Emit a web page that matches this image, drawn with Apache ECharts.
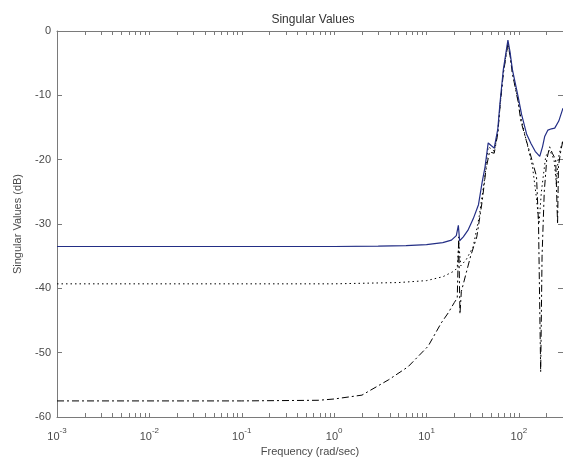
<!DOCTYPE html>
<html><head><meta charset="utf-8">
<script src="https://cdn.jsdelivr.net/npm/echarts@6/dist/echarts.min.js"></script>
<style>html,body{margin:0;padding:0;background:#fff}#c{width:563px;height:466px}</style>
</head><body><div id="c"></div>
<script>
// ---- data (frequency in rad/sec, singular values in dB) ----
var freqBlue = [0.001,0.01,0.1,1,3,6,10,15,18.6,21,22.1,22.8,25,28,32,36.5,40,43,46.5,50,54,59,62.4,67.8,76,80,85,98,107,121,135,150,168,180,190,206,225,244,270,300];
var dbBlue   = [-33.5,-33.5,-33.5,-33.5,-33.45,-33.35,-33.2,-32.9,-32.5,-31.8,-30.2,-32.6,-32.0,-31.0,-29.2,-27.0,-23.5,-21.1,-17.4,-17.8,-18.2,-15.3,-11.2,-6.0,-1.4,-3.2,-6.0,-10.2,-13.0,-16.0,-17.5,-18.7,-19.5,-18.0,-16.4,-15.4,-15.2,-15.1,-14.0,-12.0];

var freqDot = [0.001,0.1,1,5,10,15,20,21.5,22.3,23.5,27,32,37,42,46.5,50,54,59,62.4,67.8,76,80,85,98,105,120,140,155,165,175,195,215,240,255,265,285,300];
var dbDot   = [-39.3,-39.3,-39.3,-39.1,-38.8,-38.2,-37.3,-36.8,-33.0,-36.5,-35.5,-33.5,-29.0,-23.5,-18.0,-18.3,-18.7,-15.8,-11.6,-6.4,-1.8,-3.6,-6.4,-10.8,-13.5,-17.0,-21.0,-26.0,-30.0,-25.0,-19.5,-18.5,-20.0,-24.0,-20.0,-18.0,-17.0];

var freqDash = [0.001,0.1,0.68,1,2,3.9,6.3,10.4,14.4,17.2,20,21.5,22.3,23,23.8,27,30,35,40,44,48,54,59,62.4,67.8,76,80,85,98,105,120,132,155,163,172,178,188,200,215,230,250,262,268,285,300];
var dbDash   = [-57.5,-57.5,-57.4,-57.2,-56.6,-54.2,-52.2,-49.0,-45.4,-43.8,-42.2,-41.5,-32.0,-44.0,-40.5,-37.5,-35.0,-32.0,-26.5,-21.5,-18.8,-19.0,-16.0,-11.8,-6.6,-2.0,-3.8,-6.6,-11.0,-14.0,-17.0,-19.0,-22.6,-30.0,-53.0,-35.0,-25.0,-20.0,-18.0,-19.0,-20.0,-30.0,-21.0,-18.5,-17.0];

var xMin = 0.001, xMax = 300;
var decadeExps = [-3,-2,-1,0,1,2];          // tick labels 10^n
var yMin = -60, yMax = 0, yStep = 10;
var titleText = 'Singular Values';
var xName = 'Frequency (rad/sec)';
var yName = 'Singular Values (dB)';

// x axis works in log10(frequency) space
function pairs(f, v){ return f.map(function(x,i){ return [Math.log10(x), v[i]]; }); }
var allTicks = [];
decadeExps.forEach(function(n){ for (var k = 1; k <= 9; k++) { var m = k*Math.pow(10,n); if (m <= xMax) allTicks.push(Math.log10(m)); } });

var axisColor = '#7a7a7a', textColor = '#4a4a4a', fontFam = '"Liberation Sans", Arial, sans-serif';
function xAx(pos, show){
  return { type:'value', min:Math.log10(xMin), max:Math.log10(xMax), interval:1, position:pos,
    axisLine:{show:true, onZero:false, lineStyle:{color:axisColor, width:1}},
    axisTick:{show:true, inside:true, length:4, customValues:allTicks, lineStyle:{color:axisColor}},
    axisLabel: show ? {
      show:true, customValues:decadeExps, margin:10, color:textColor, fontFamily:fontFam,
      formatter: function(v){ return '{b|10}{s|' + Math.round(v) + '}'; },
      rich: { b:{fontSize:11, fontFamily:fontFam, color:textColor, verticalAlign:'bottom'},
              s:{fontSize:8, fontFamily:fontFam, color:textColor, verticalAlign:'bottom', padding:[0,0,7,0]} }
    } : {show:false},
    splitLine:{show:false},
    name: show ? xName : '', nameLocation:'middle', nameGap:29,
    nameTextStyle:{color:textColor, fontSize:11, fontFamily:fontFam} };
}
function yAx(pos, show){
  return { type:'value', min:yMin, max:yMax, interval:yStep, position:pos,
    axisLine:{show:true, onZero:false, lineStyle:{color:axisColor, width:1}},
    axisTick:{show:true, inside:true, length:5, lineStyle:{color:axisColor}},
    axisLabel:{show:show, color:textColor, fontSize:11, fontFamily:fontFam, margin:6},
    splitLine:{show:false},
    name: show ? yName : '', nameLocation:'middle', nameGap:34, nameRotate:90,
    nameTextStyle:{color:textColor, fontSize:11, fontFamily:fontFam} };
}

var chart = echarts.init(document.getElementById('c'), null, {renderer:'canvas'});
chart.setOption({
  animation:false,
  backgroundColor:'#ffffff',
  title:{ text:titleText, left:308, top:9, textAlign:'center',
    textStyle:{fontSize:12, fontWeight:'normal', color:'#333333', fontFamily:fontFam} },
  grid:{ left:57, top:31, right:-2, bottom:49, containLabel:false },
  xAxis:[ xAx('bottom', true), xAx('top', false) ],
  yAxis:[ yAx('left', true), yAx('right', false) ],
  series:[
    { type:'line', data:pairs(freqDash, dbDash), showSymbol:false,
      lineStyle:{color:'#000000', width:1, type:[7,3,2,3]} },
    { type:'line', data:pairs(freqDot, dbDot), showSymbol:false,
      lineStyle:{color:'#000000', width:1, type:[1.5,3]} },
    { type:'line', data:pairs(freqBlue, dbBlue), showSymbol:false,
      lineStyle:{color:'#232e85', width:1.2} }
  ]
});
</script></body></html>
